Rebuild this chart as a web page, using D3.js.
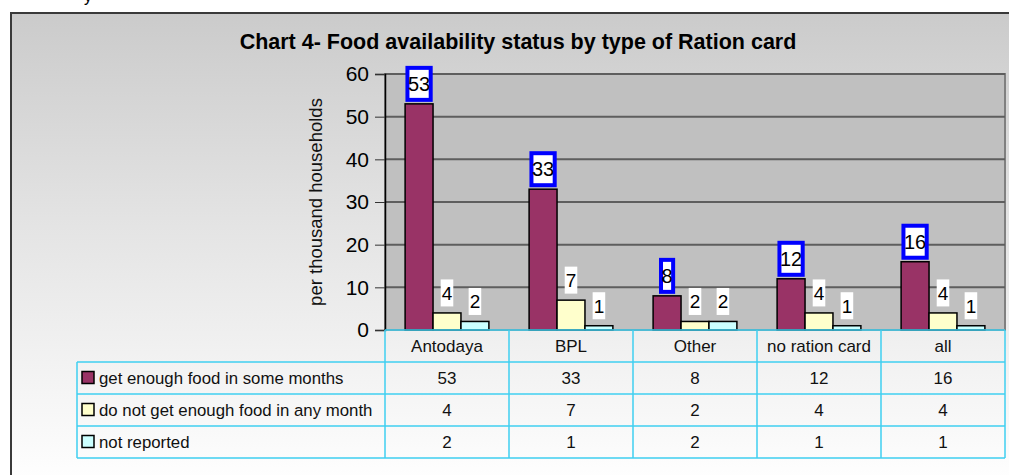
<!DOCTYPE html>
<html>
<head>
<meta charset="utf-8">
<script src="https://cdn.jsdelivr.net/npm/d3@7"></script>
<style>
  body { margin: 0; background: #fff; }
  svg { display: block; font-family: Arial, "Liberation Sans", sans-serif; }
</style>
</head>
<body>
<div id="chart"></div>
<script>
let categories = ["Antodaya", "BPL", "Other", "no ration card", "all"];
let seriesNames = ["get enough food in some months", "do not get enough food in any month", "not reported"];
let someMonths = [53, 33, 8, 12, 16];
let noMonth = [4, 7, 2, 4, 4];
let notReported = [2, 1, 2, 1, 1];
let yTicks = [0, 10, 20, 30, 40, 50, 60];

let colors = ["#993366", "#ffffcc", "#ccffff"];
let series = [someMonths, noMonth, notReported];

function main() {
    let W = 1009, H = 475;
    let svg = d3.select("#chart").append("svg")
        .attr("width", W).attr("height", H);

    // chart area background (gray fading to white)
    let defs = svg.append("defs");
    let grad = defs.append("linearGradient").attr("id", "bg")
        .attr("x1", 0).attr("y1", 0).attr("x2", 0).attr("y2", 1);
    grad.append("stop").attr("offset", "0%").attr("stop-color", "#cbcbcb");
    grad.append("stop").attr("offset", "45%").attr("stop-color", "#e4e4e4");
    grad.append("stop").attr("offset", "100%").attr("stop-color", "#ffffff");

    svg.append("rect").attr("x", 11).attr("y", 13).attr("width", W).attr("height", H)
        .attr("fill", "url(#bg)");
    svg.append("path").attr("d", `M11,${H} V13 H${W}`)
        .attr("fill", "none").attr("stroke", "#3a3a3a").attr("stroke-width", 2);

    // cut-off text from the page above
    svg.append("text").attr("x", 84).attr("y", 2).attr("font-size", 16).text("y");

    let left = 385, right = 1005, top = 74, bottom = 330;

    let x = d3.scaleBand().domain(categories).range([left, right]).padding(0);
    let xs = d3.scaleBand().domain(d3.range(3)).range([0, x.bandwidth()])
        .paddingInner(0).paddingOuter(0.72);
    let y = d3.scaleLinear().domain([0, 60]).range([bottom, top]);

    // plot area
    svg.append("rect").attr("x", left).attr("y", top)
        .attr("width", right - left).attr("height", bottom - top)
        .attr("fill", "#c0c0c0").attr("stroke", "#808080").attr("stroke-width", 2);

    svg.append("g").selectAll("line").data(yTicks.filter(d => d > 0)).join("line")
        .attr("x1", left).attr("x2", right)
        .attr("y1", d => y(d)).attr("y2", d => y(d))
        .attr("stroke", "#5e5e5e").attr("stroke-width", 2);

    // y axis
    let yAxis = svg.append("g").attr("transform", `translate(${left},0)`)
        .call(d3.axisLeft(y).tickValues(yTicks).tickSize(10).tickPadding(6));
    yAxis.select(".domain").attr("stroke", "#000").attr("stroke-width", 1.5);
    yAxis.selectAll(".tick line").attr("stroke", "#333");
    yAxis.selectAll(".tick text").attr("font-size", 21).attr("fill", "#000")
        .attr("font-family", "Arial, 'Liberation Sans', sans-serif");

    svg.append("text")
        .attr("transform", `translate(322,${(top + bottom) / 2}) rotate(-90)`)
        .attr("text-anchor", "middle").attr("font-size", 18.5).attr("fill", "#111")
        .text("per thousand households");

    svg.append("text").attr("x", 518).attr("y", 49)
        .attr("text-anchor", "middle").attr("font-size", 21.5).attr("font-weight", "bold")
        .attr("fill", "#000")
        .text("Chart 4- Food availability status by type of Ration card");

    // bars
    let bars = [];
    series.forEach((vals, s) => vals.forEach((v, i) => bars.push({ s, cat: categories[i], v })));

    svg.append("g").selectAll("rect").data(bars).join("rect")
        .attr("x", d => x(d.cat) + xs(d.s))
        .attr("y", d => y(d.v))
        .attr("width", xs.bandwidth())
        .attr("height", d => y(0) - y(d.v))
        .attr("fill", d => colors[d.s])
        .attr("stroke", "#000").attr("stroke-width", 1.5);

    // data labels
    let lab = svg.append("g").selectAll("g").data(bars).join("g")
        .attr("transform", d => `translate(${x(d.cat) + xs(d.s) + xs.bandwidth() / 2},${y(d.v) - 20})`);
    lab.append("text")
        .attr("text-anchor", "middle").attr("dy", "0.36em")
        .attr("font-size", d => d.s === 0 ? 20 : 19)
        .attr("fill", "#000")
        .text(d => d.v);
    lab.each(function (d) {
        let g = d3.select(this);
        let tw = g.select("text").node().getComputedTextLength();
        let bw = tw + (d.s === 0 ? 1 : 2), bh = d.s === 0 ? 32 : 27;
        g.insert("rect", "text")
            .attr("x", -bw / 2).attr("y", -bh / 2)
            .attr("width", bw).attr("height", bh)
            .attr("fill", "#fff")
            .attr("stroke", d.s === 0 ? "#0000ff" : "none")
            .attr("stroke-width", 4);
    });

    // data table
    let tLeft = 77, rowH = 32;
    let tRows = [bottom, bottom + rowH, bottom + 2 * rowH, bottom + 3 * rowH, bottom + 4 * rowH - 0];
    let line = "#3fcff0";
    let tbl = svg.append("g");

    // header cells
    tbl.selectAll("text.hdr").data(categories).join("text")
        .attr("class", "hdr")
        .attr("x", d => x(d) + x.bandwidth() / 2).attr("y", tRows[0] + rowH / 2)
        .attr("dy", "0.36em").attr("text-anchor", "middle")
        .attr("font-size", 17).attr("fill", "#111")
        .text(d => d);

    seriesNames.forEach((name, s) => {
        let cy = tRows[s + 1] + rowH / 2;
        tbl.append("rect").attr("x", 82).attr("y", cy - 6.5)
            .attr("width", 12).attr("height", 12)
            .attr("fill", colors[s]).attr("stroke", "#000").attr("stroke-width", 1.5);
        tbl.append("text").attr("x", 99).attr("y", cy).attr("dy", "0.36em")
            .attr("font-size", 16.8).attr("fill", "#111").text(name);
        tbl.selectAll(null).data(series[s]).join("text")
            .attr("x", (d, i) => x(categories[i]) + x.bandwidth() / 2).attr("y", cy)
            .attr("dy", "0.36em").attr("text-anchor", "middle")
            .attr("font-size", 17).attr("fill", "#111")
            .text(d => d);
    });

    let gridLines = [];
    gridLines.push([left, tRows[0], right, tRows[0]]);
    for (let r = 1; r < tRows.length; r++) gridLines.push([tLeft, tRows[r], right, tRows[r]]);
    gridLines.push([tLeft, tRows[1], tLeft, tRows[4]]);
    categories.forEach(c => gridLines.push([x(c), tRows[0], x(c), tRows[4]]));
    gridLines.push([right, tRows[0], right, tRows[4]]);
    tbl.selectAll("line").data(gridLines).join("line")
        .attr("x1", d => d[0]).attr("y1", d => d[1])
        .attr("x2", d => d[2]).attr("y2", d => d[3])
        .attr("stroke", line).attr("stroke-width", 1.5);
}

main();
</script>
</body>
</html>
